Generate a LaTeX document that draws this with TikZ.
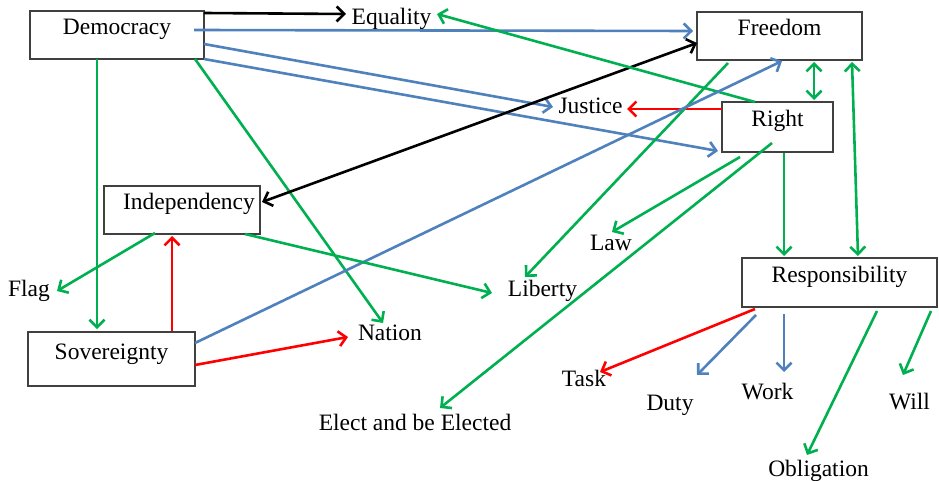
\documentclass[tikz,border=0pt]{standalone}
\usepackage{fontspec}
\setmainfont{Liberation Serif}
\usetikzlibrary{arrows.meta,calc}
\definecolor{cblue}{HTML}{4F81BD}
\definecolor{cgreen}{HTML}{00B050}
\definecolor{cred}{HTML}{FF0000}
\definecolor{cframe}{HTML}{404040}
\begin{document}
\begin{tikzpicture}[x=1pt,y=-1pt,
  every node/.style={font=\fontsize{23.5}{28}\selectfont, inner sep=0pt},
  box/.style={draw=cframe, line width=1.5pt, fill=white, text height=14pt, text depth=14pt},
  lbl/.style={text height=16pt, text depth=6pt},
  tip/.style={Straight Barb[length=7.5pt,width=15pt,line width=2.6pt]},
  conn/.style={line width=2.6pt, -{Straight Barb[length=7.5pt,width=15pt,line width=2.6pt]}},
  dconn/.style={line width=2.6pt, {Straight Barb[length=7.5pt,width=15pt,line width=2.6pt]}-{Straight Barb[length=7.5pt,width=15pt,line width=2.6pt]}},
  bl/.style={conn, cblue}, gr/.style={conn, cgreen}, rd/.style={conn, cred}, bk/.style={conn, black}]
\useasboundingbox[fill=white] (0,0) rectangle (939,481);
% boxes
\node[box, minimum width=174pt, minimum height=48pt] (dem) at (117,35) {Democracy\hspace{16pt}};
\node[box, minimum width=165pt, minimum height=48pt] (free) at (779.5,36) {Freedom};
\node[box, minimum width=111pt, minimum height=50pt] (right) at (777.5,127) {Right};
\node[box, minimum width=156pt, minimum height=48pt] (indep) at (182,210) {\hspace{14pt}Independency};
\node[box, minimum width=167pt, minimum height=54pt] (sov) at (111.5,359) {Sovereignty};
\node[box, minimum width=195pt, minimum height=49pt] (resp) at (839.5,282.5) {Responsibility};
% labels
\node[lbl] (equal) at (391.5,20) {Equality};
\node[lbl] (just) at (590.5,109) {Justice};
\node[lbl] (flag) at (29,291) {Flag};
\node[lbl] (nation) at (390,335) {Nation};
\node[lbl] (law) at (611,245) {Law};
\node[lbl] (liberty) at (542.5,291) {Liberty};
\node[lbl] (elect) at (415,425) {Elect and be Elected};
\node[lbl] (task) at (584,381) {Task};
\node[lbl] (duty) at (670,405) {Duty};
\node[lbl] (work) at (767.5,394) {Work};
\node[lbl] (will) at (909.5,404) {Will};
\node[lbl] (oblig) at (818.5,471) {Obligation};
% connectors
\draw[bk] ($(dem.center)+(87,-22)$) -- ($(equal.center)+(-45.5,-6)$);
\draw[bl] ($(dem.center)+(77,-5)$) -- ($(free.center)+(-86.5,-5)$);
\draw[bl] ($(dem.center)+(87,9)$) -- ($(just.center)+(-37.5,-2)$);
\draw[bl] ($(dem.center)+(87,24)$) -- ($(right.center)+(-59.5,24)$);
\draw[gr] ($(dem.center)+(-20,24)$) -- ($(sov.center)+(-14.5,-30)$);
\draw[gr] ($(dem.center)+(78,24)$) -- ($(nation.center)+(-7,-12)$);
\draw[dconn, black] ($(indep.center)+(80,-8)$) -- ($(free.center)+(-82.5,7)$);
\draw[gr] ($(right.center)+(-22.5,-25)$) -- ($(equal.center)+(45.5,-6)$);
\draw[rd] ($(right.center)+(-55.5,-18)$) -- ($(just.center)+(36.5,0)$);
\draw[dconn, cgreen] ($(free.center)+(34.5,26)$) -- ($(right.center)+(36.5,-27)$);
\draw[dconn, cgreen] ($(resp.center)+(18.5,-26.5)$) -- ($(free.center)+(72.5,26)$);
\draw[gr] ($(right.center)+(6.5,26)$) -- ($(resp.center)+(-55.5,-26.5)$);
\draw[gr] ($(free.center)+(-51.5,27)$) -- ($(liberty.center)+(-17.5,-14)$);
\draw[bl] ($(sov.center)+(83.5,-16)$) -- ($(free.center)+(2.5,25)$);
\draw[gr] ($(right.center)+(-37.5,30)$) -- ($(law.center)+(1,-13)$);
\draw[gr] ($(right.center)+(-5.5,16)$) -- ($(elect.center)+(25,-17)$);
\draw[gr] ($(indep.center)+(-27,23)$) -- ($(flag.center)+(28,0)$);
\draw[gr] ($(indep.center)+(63,24)$) -- ($(liberty.center)+(-50.5,2)$);
\draw[rd] ($(sov.center)+(60.5,-28)$) -- ($(indep.center)+(-10,26)$);
\draw[rd] ($(sov.center)+(83.5,6)$) -- ($(nation.center)+(-42,2)$);
\draw[rd] ($(resp.center)+(-84.5,26.5)$) -- ($(task.center)+(16,-9)$);
\draw[bl] ($(resp.center)+(-83.5,32.5)$) -- ($(duty.center)+(27,-30)$);
\draw[bl] ($(resp.center)+(-55.5,31.5)$) -- ($(work.center)+(16.5,-22)$);
\draw[gr] ($(resp.center)+(37.5,28.5)$) -- ($(oblig.center)+(-11.5,-16)$);
\draw[gr] ($(resp.center)+(91.5,28.5)$) -- ($(will.center)+(-6.5,-29)$);
\end{tikzpicture}
\end{document}
